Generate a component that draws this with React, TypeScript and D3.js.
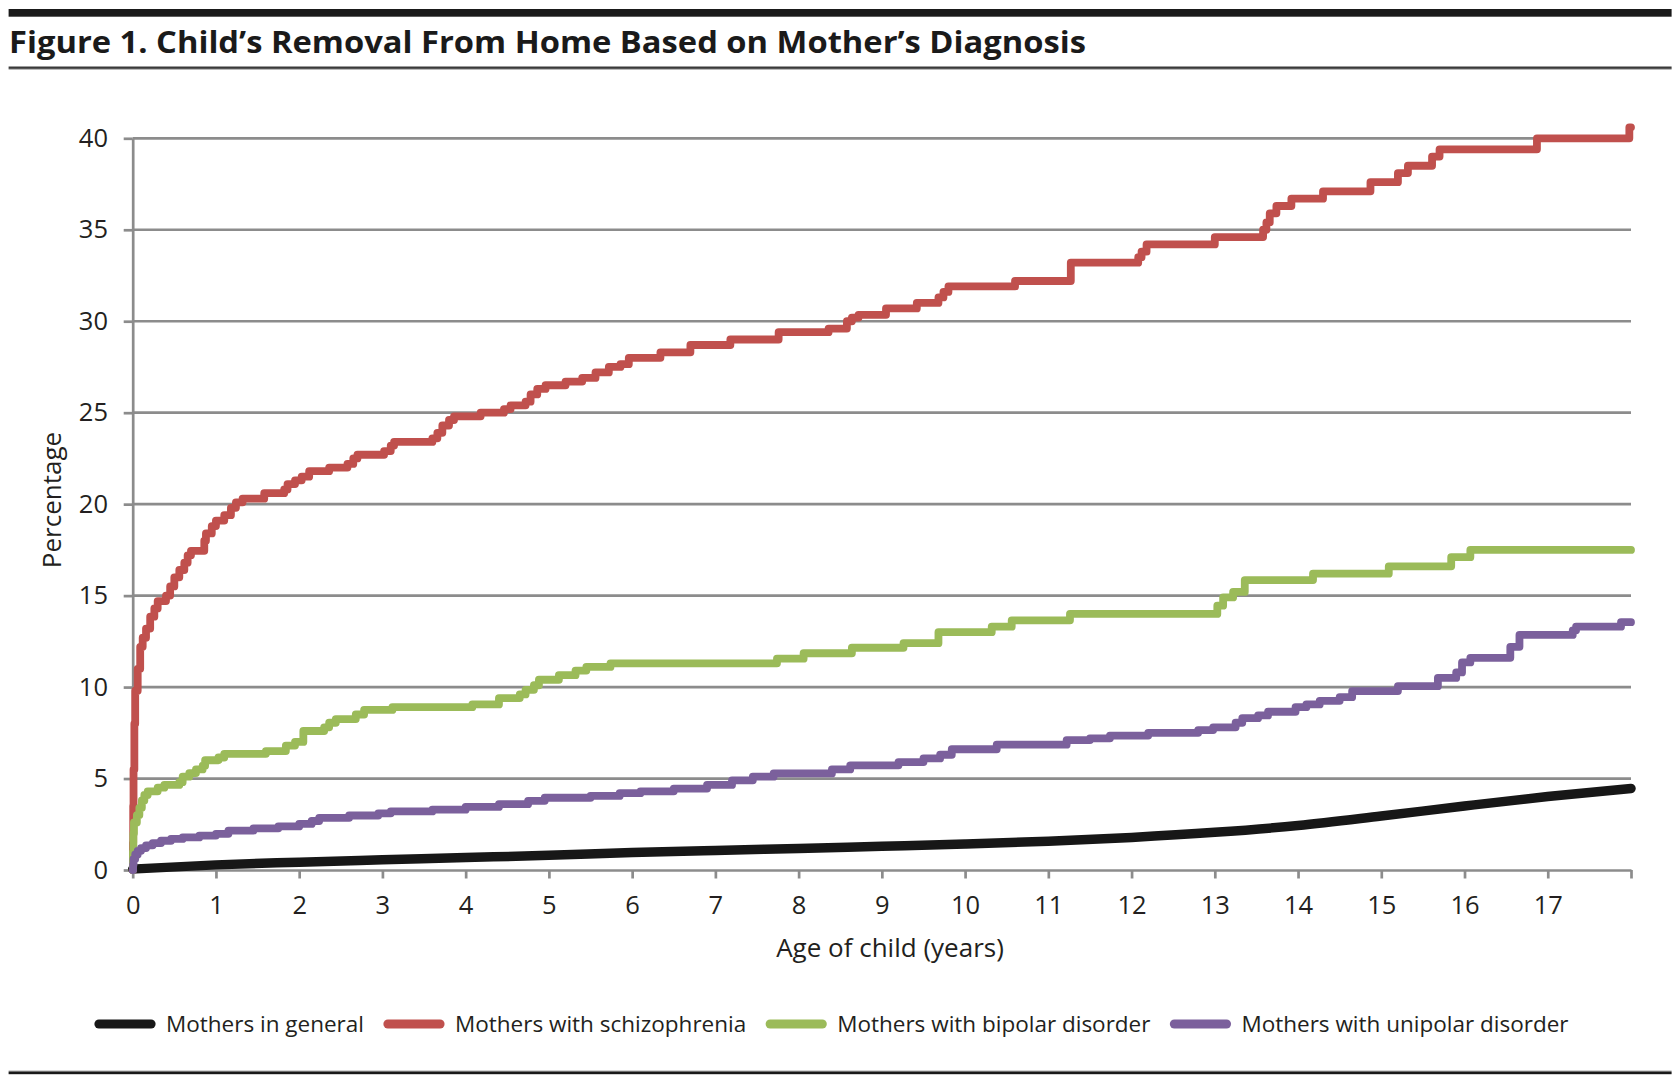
import React, { useEffect, useRef } from 'react';
import * as d3 from 'd3';

type Pt = [number, number];

// series (age in years, cumulative %)
const seriesNames = [
  'Mothers in general',
  'Mothers with schizophrenia',
  'Mothers with bipolar disorder',
  'Mothers with unipolar disorder',
];
const seriesColors = ['#171717', '#c0504d', '#9bbb59', '#7b609c'];

const general: Pt[] = [
  [0, 0.05], [1, 0.28], [2, 0.43], [3, 0.56], [4, 0.68], [5, 0.8], [6, 0.95],
  [7, 1.07], [8, 1.18], [9, 1.3], [10, 1.42], [11, 1.57], [12, 1.78], [13, 2.06],
  [14, 2.43], [15, 2.95], [16, 3.5], [17, 4.02], [18, 4.46],
];

const schizophrenia: Pt[] = [
  [0, 0], [0.003, 1.5], [0.006, 3.5], [0.01, 5.5], [0.02, 8], [0.03, 9.8], [0.06, 11],
  [0.09, 12.2], [0.12, 12.7], [0.16, 13.2], [0.21, 13.85], [0.26, 14.3], [0.3, 14.7],
  [0.4, 15.0], [0.45, 15.5], [0.5, 16.0], [0.56, 16.4], [0.62, 16.8], [0.66, 17.2],
  [0.7, 17.45], [0.86, 18.0], [0.88, 18.4], [0.95, 18.8], [1.0, 19.1], [1.1, 19.4],
  [1.18, 19.8], [1.24, 20.1], [1.32, 20.3], [1.58, 20.6], [1.82, 20.8], [1.86, 21.1],
  [1.95, 21.3], [2.03, 21.5], [2.12, 21.8], [2.36, 22.0], [2.58, 22.2], [2.65, 22.5],
  [2.7, 22.7], [3.02, 22.9], [3.1, 23.2], [3.14, 23.4], [3.6, 23.6], [3.66, 23.9],
  [3.72, 24.3], [3.8, 24.6], [3.86, 24.8], [4.18, 25.0], [4.46, 25.2], [4.54, 25.4],
  [4.72, 25.6], [4.78, 26.0], [4.86, 26.3], [4.96, 26.5], [5.2, 26.7], [5.4, 26.9],
  [5.56, 27.2], [5.72, 27.5], [5.86, 27.65], [5.96, 28.0], [6.34, 28.3], [6.7, 28.7],
  [7.18, 29.0], [7.76, 29.4], [8.36, 29.6], [8.58, 30.0], [8.64, 30.2], [8.72, 30.35],
  [9.05, 30.7], [9.42, 31.0], [9.68, 31.3], [9.74, 31.6], [9.8, 31.9], [10.6, 32.2],
  [11.27, 33.2], [12.08, 33.5], [12.12, 33.8], [12.18, 34.2], [13.0, 34.6], [13.58, 35.0],
  [13.62, 35.4], [13.66, 35.9], [13.74, 36.3], [13.92, 36.7], [14.3, 37.1], [14.87, 37.6],
  [15.2, 38.1], [15.32, 38.5], [15.61, 39.0], [15.7, 39.4], [16.87, 40.0], [17.98, 40.6],
  [18.0, 40.6],
];

const bipolar: Pt[] = [
  [0, 0], [0.003, 1.0], [0.008, 2.0], [0.015, 2.6], [0.05, 3.0], [0.08, 3.4], [0.11, 3.8],
  [0.14, 4.1], [0.18, 4.3], [0.3, 4.5], [0.38, 4.65], [0.56, 4.8], [0.6, 5.1], [0.68, 5.3],
  [0.76, 5.5], [0.84, 5.7], [0.87, 6.0], [1.03, 6.15], [1.1, 6.35], [1.6, 6.5], [1.84, 6.8],
  [1.95, 7.0], [2.05, 7.6], [2.3, 7.8], [2.36, 8.05], [2.44, 8.25], [2.68, 8.5], [2.78, 8.75],
  [3.12, 8.9], [4.08, 9.05], [4.4, 9.4], [4.65, 9.6], [4.72, 9.85], [4.82, 10.1], [4.88, 10.4],
  [5.12, 10.65], [5.32, 10.9], [5.45, 11.1], [5.74, 11.3], [7.74, 11.55], [8.06, 11.85],
  [8.64, 12.15], [9.26, 12.4], [9.68, 13.0], [10.32, 13.3], [10.56, 13.65], [11.26, 14.0],
  [13.03, 14.45], [13.1, 14.9], [13.22, 15.2], [13.36, 15.85], [14.18, 16.2], [15.09, 16.6],
  [15.84, 17.1], [16.07, 17.5], [18.0, 17.5],
];

const unipolar: Pt[] = [
  [0, 0], [0.005, 0.3], [0.01, 0.6], [0.03, 0.85], [0.06, 1.05], [0.1, 1.2], [0.16, 1.35],
  [0.24, 1.47], [0.34, 1.6], [0.46, 1.7], [0.6, 1.78], [0.8, 1.88], [1.0, 1.98], [1.15, 2.15],
  [1.45, 2.28], [1.75, 2.38], [2.0, 2.52], [2.15, 2.68], [2.24, 2.85], [2.6, 2.98], [2.95, 3.1],
  [3.1, 3.2], [3.6, 3.3], [4.0, 3.45], [4.4, 3.6], [4.75, 3.78], [4.95, 3.95], [5.5, 4.05],
  [5.85, 4.2], [6.1, 4.3], [6.5, 4.45], [6.9, 4.65], [7.2, 4.9], [7.45, 5.1], [7.7, 5.28],
  [8.4, 5.5], [8.62, 5.72], [9.2, 5.9], [9.5, 6.1], [9.7, 6.3], [9.84, 6.6], [10.38, 6.85],
  [11.22, 7.1], [11.5, 7.2], [11.74, 7.35], [12.2, 7.5], [12.8, 7.65], [12.98, 7.8],
  [13.25, 8.05], [13.33, 8.3], [13.52, 8.45], [13.64, 8.65], [13.97, 8.9], [14.1, 9.05],
  [14.26, 9.25], [14.5, 9.45], [14.65, 9.78], [15.2, 10.05], [15.68, 10.5], [15.9, 10.8],
  [15.97, 11.35], [16.07, 11.6], [16.55, 12.2], [16.66, 12.85], [17.3, 13.1], [17.34, 13.3],
  [17.88, 13.55], [18.0, 13.55],
];

const xTicks = [0, 1, 2, 3, 4, 5, 6, 7, 8, 9, 10, 11, 12, 13, 14, 15, 16, 17, 18];
const xTickLabels = ['0', '1', '2', '3', '4', '5', '6', '7', '8', '9', '10', '11', '12', '13', '14', '15', '16', '17'];
const yTicks = [0, 5, 10, 15, 20, 25, 30, 35, 40];

const W = 1674;
const H = 1084;
const FONT = "'Open Sans', 'Noto Sans', sans-serif";
const INK = '#231f20';
const GRID = '#8c8c8c';

const App: React.FC = () => {
  const ref = useRef<SVGSVGElement>(null);

  useEffect(() => {
    const svg = d3.select(ref.current);
    svg.selectAll('*').remove();

    const x = d3.scaleLinear().domain([0, 18]).range([132.7, 1631]);
    const y = d3.scaleLinear().domain([0, 40]).range([870, 138.3]);

    // header / footer rules
    svg.append('rect').attr('x', 8.6).attr('y', 9).attr('width', 1663).attr('height', 7.7).attr('fill', '#1a1a1a');
    svg.append('text')
      .attr('x', 9).attr('y', 53)
      .attr('textLength', 1077).attr('lengthAdjust', 'spacingAndGlyphs')
      .style('font-family', FONT).style('font-weight', 700).style('font-size', '31px')
      .attr('fill', '#1a1a1a')
      .text('Figure 1. Child\u2019s Removal From Home Based on Mother\u2019s Diagnosis');
    svg.append('rect').attr('x', 8.6).attr('y', 66.5).attr('width', 1663).attr('height', 2.4).attr('fill', '#3a3a3a');
    svg.append('rect').attr('x', 8.6).attr('y', 68.9).attr('width', 1663).attr('height', 0.9).attr('fill', '#aaaaaa');
    svg.append('rect').attr('x', 8.6).attr('y', 1070.2).attr('width', 1663).attr('height', 1).attr('fill', '#cccccc');
    svg.append('rect').attr('x', 8.6).attr('y', 1071.4).attr('width', 1663).attr('height', 2.8).attr('fill', '#1a1a1a');

    // gridlines
    svg.append('g')
      .selectAll('line')
      .data(yTicks.filter(d => d > 0))
      .join('line')
      .attr('x1', x(0)).attr('x2', x(18))
      .attr('y1', d => y(d)).attr('y2', d => y(d))
      .attr('stroke', GRID).attr('stroke-width', 2.7);

    // axes
    const yAxis = svg.append('g')
      .attr('transform', `translate(${x(0)},0)`)
      .call(d3.axisLeft(y).tickValues(yTicks).tickSize(9).tickSizeOuter(0).tickPadding(15.7).tickFormat(d => String(d)));
    const xAxis = svg.append('g')
      .attr('transform', `translate(0,${y(0)})`)
      .call(
        d3.axisBottom(x).tickValues(xTicks).tickSize(8.5).tickSizeOuter(0).tickPadding(17)
          .tickFormat((_, i) => xTickLabels[i] ?? '')
      );
    [yAxis, xAxis].forEach(ax => {
      ax.select('.domain').attr('stroke', GRID).attr('stroke-width', 2.7);
      ax.selectAll('.tick line').attr('stroke', GRID).attr('stroke-width', 2.7);
      ax.selectAll('.tick text')
        .attr('fill', INK)
        .style('font-family', FONT).style('font-size', '25.5px');
    });

    // axis titles
    svg.append('text')
      .attr('transform', 'translate(61,500) rotate(-90)')
      .attr('text-anchor', 'middle')
      .style('font-family', FONT).style('font-size', '26px')
      .attr('fill', INK)
      .text('Percentage');
    svg.append('text')
      .attr('x', 890).attr('y', 957)
      .attr('text-anchor', 'middle')
      .style('font-family', FONT).style('font-size', '26px')
      .attr('fill', INK)
      .text('Age of child (years)');

    // series
    const step = d3.line<Pt>().x(d => x(d[0])).y(d => y(d[1])).curve(d3.curveStepAfter);
    const smooth = d3.line<Pt>().x(d => x(d[0])).y(d => y(d[1])).curve(d3.curveMonotoneX);
    const series: { pts: Pt[]; gen: d3.Line<Pt>; w: number }[] = [
      { pts: general, gen: smooth, w: 9.5 },
      { pts: schizophrenia, gen: step, w: 7.8 },
      { pts: bipolar, gen: step, w: 7.8 },
      { pts: unipolar, gen: step, w: 7.8 },
    ];
    const plot = svg.append('g');
    series.forEach((s, i) => {
      plot.append('path')
        .attr('d', s.gen(s.pts) ?? '')
        .attr('fill', 'none')
        .attr('stroke', seriesColors[i])
        .attr('stroke-width', s.w)
        .attr('stroke-linecap', 'round')
        .attr('stroke-linejoin', 'round');
    });

    // legend, laid out left to right by measured text width
    const legend = svg.append('g');
    let cx = 94.4;
    seriesNames.forEach((name, i) => {
      legend.append('line')
        .attr('x1', cx + 4.5).attr('x2', cx + 56.7)
        .attr('y1', 1024).attr('y2', 1024)
        .attr('stroke', seriesColors[i]).attr('stroke-width', 9)
        .attr('stroke-linecap', 'round');
      const t = legend.append('text')
        .attr('x', cx + 71.6).attr('y', 1031.7)
        .style('font-family', FONT).style('font-size', '22.5px')
        .attr('fill', INK)
        .text(name);
      const tw = (t.node() as SVGTextElement).getComputedTextLength();
      cx = cx + 71.6 + tw + 19.4;
    });
  }, []);

  return (
    <svg
      ref={ref}
      width={W}
      height={H}
      style={{ position: 'absolute', left: 0, top: 0, background: '#fff' }}
    />
  );
};

export default App;
